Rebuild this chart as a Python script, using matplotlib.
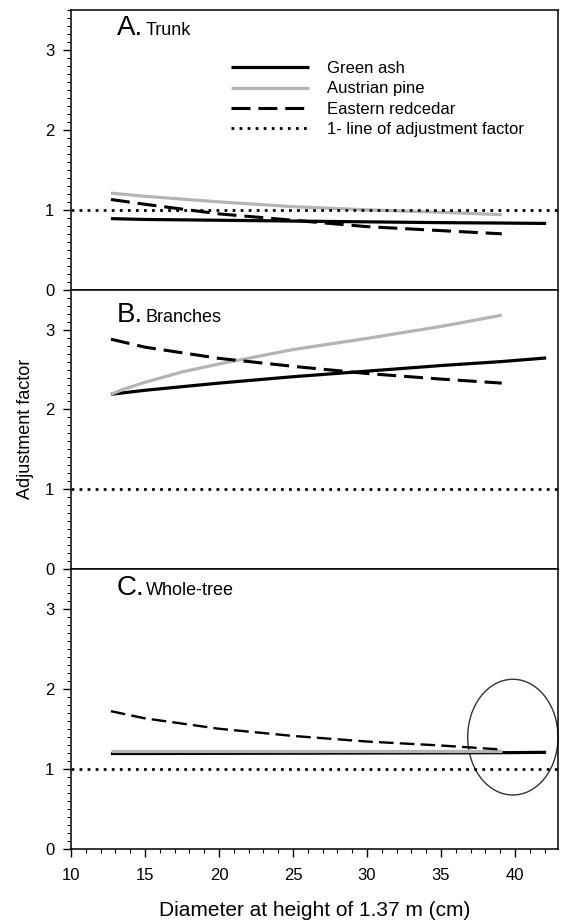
import matplotlib
matplotlib.use('Agg')
import matplotlib.pyplot as plt
from matplotlib.patches import Ellipse
from matplotlib.ticker import MultipleLocator
import numpy as np

plt.rcParams['font.family'] = ['Liberation Sans', 'DejaVu Sans']

# diameter (cm) points
x_short = [12.7, 15, 20, 25, 30, 35, 39.1]
x_long = [12.7, 15, 20, 25, 30, 35, 39.1, 42.1]

# A. Trunk
trunk_ash = [0.89, 0.88, 0.87, 0.86, 0.85, 0.84, 0.835, 0.83]
trunk_pine = [1.21, 1.17, 1.10, 1.04, 1.00, 0.97, 0.94]
trunk_cedar = [1.13, 1.07, 0.95, 0.87, 0.79, 0.74, 0.70]

# B. Branches
branch_ash = [2.19, 2.24, 2.33, 2.41, 2.48, 2.55, 2.60, 2.645]
branch_pine_x = [12.7, 13.5, 15, 17.5, 20, 25, 30, 35, 39.1]
branch_pine = [2.19, 2.25, 2.34, 2.47, 2.57, 2.75, 2.89, 3.04, 3.18]
branch_cedar = [2.88, 2.78, 2.64, 2.54, 2.45, 2.38, 2.33]

# C. Whole-tree
whole_ash = [1.19, 1.19, 1.192, 1.194, 1.196, 1.198, 1.20, 1.205]
whole_pine = [1.22, 1.22, 1.22, 1.22, 1.22, 1.22, 1.22]
whole_cedar = [1.72, 1.63, 1.50, 1.41, 1.34, 1.29, 1.24]

panels = [
    ('A.', 'Trunk', trunk_ash, x_short, trunk_pine, trunk_cedar, 3.19),
    ('B.', 'Branches', branch_ash, branch_pine_x, branch_pine, branch_cedar, 3.09),
    ('C.', 'Whole-tree', whole_ash, x_short, whole_pine, whole_cedar, 3.18),
]

W, H = 561, 921
fig = plt.figure(figsize=(W / 100, H / 100), dpi=100)

left = 71.0 / W
width = (558 - 71.0) / W
ph = 279.4 / H
bottom_c = 1 - 848.5 / H

gray = '#b4b4b4'
dash = (0, (6.2, 2.6))
dot = (0, (1, 1.9))

axes = []
for i, (letter, name, ash, px, pine, cedar, ylab) in enumerate(panels):
    ax = fig.add_axes([left, bottom_c + (2 - i) * ph, width, ph])
    axes.append(ax)
    ax.plot(x_long, ash, color='black', lw=2.3, label='Green ash', solid_capstyle='butt')
    ax.plot(px, pine, color=gray, lw=2.3, label='Austrian pine', solid_capstyle='butt')
    lw_c = 2.2 if i < 2 else 1.7
    ax.plot(x_short, cedar, color='black', lw=lw_c, linestyle=dash, label='Eastern redcedar')
    ax.axhline(1, color='black', lw=2.0, linestyle=dot, label='1- line of adjustment factor')

    ax.set_xlim(10, 42.9)
    ax.set_ylim(0, 3.5)
    ax.yaxis.set_major_locator(MultipleLocator(1))
    ax.yaxis.set_minor_locator(MultipleLocator(0.1))
    ax.tick_params(axis='y', which='major', direction='out', length=6, width=1, labelsize=12, pad=6)
    ax.tick_params(axis='y', which='minor', direction='out', length=3, width=0.8)
    for s in ax.spines.values():
        s.set_linewidth(1.1)

    if i < 2:
        ax.tick_params(axis='x', which='both', bottom=False, labelbottom=False)
    else:
        ax.xaxis.set_major_locator(MultipleLocator(5))
        ax.xaxis.set_minor_locator(MultipleLocator(1))
        ax.tick_params(axis='x', which='major', direction='out', length=6, width=1, labelsize=12, pad=8)
        ax.tick_params(axis='x', which='minor', direction='out', length=3, width=0.8)

    ax.text(13.1, ylab, letter, fontsize=20, va='baseline', ha='left')
    ax.text(15.05, ylab, name, fontsize=13, va='baseline', ha='left')

axes[0].legend(loc='upper left', bbox_to_anchor=(0.328, 0.818), frameon=False,
               fontsize=12, handlelength=4.7, handletextpad=1.1, labelspacing=0.32,
               borderpad=0, borderaxespad=0)

ell = Ellipse((39.85, 1.395), 6.1, 1.45, fill=False, lw=1.0, edgecolor='#333333', clip_on=False)
axes[2].add_patch(ell)

fig.text(25 / W, 1 - 429 / H, 'Adjustment factor', rotation=90, ha='center', va='center', fontsize=13)
fig.text(left + width / 2, 1 - 910 / H, 'Diameter at height of 1.37 m (cm)', ha='center', va='center', fontsize=15)

fig.savefig('out.png', dpi=100)
